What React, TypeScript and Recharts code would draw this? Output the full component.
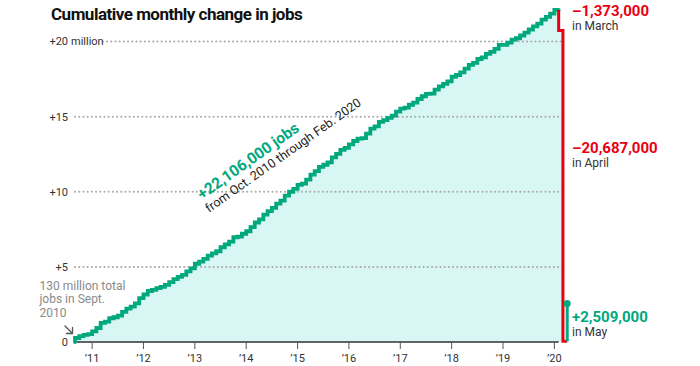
import {
  ComposedChart,
  Area,
  Line,
  XAxis,
  YAxis,
  ReferenceLine,
  ReferenceDot,
} from 'recharts'

const FONT = 'Roboto, "Liberation Sans", Arial, sans-serif'
const GREEN = '#00a87e'
const RED = '#ea0010'
const FILL = '#d7f6f4'
const GRID = '#aaaaaa'
const INK = '#333'

// monthly change in payroll jobs, in thousands (Sept. 2010 = 0)
const GAINS_2010 = [265, 123, 87] // Oct–Dec
const GAINS_2011 = [43, 189, 225, 346, 77, 225, 69, 110, 248, 209, 141, 209]
const GAINS_2012 = [358, 237, 233, 78, 115, 76, 143, 177, 203, 146, 132, 244]
const GAINS_2013 = [190, 311, 135, 192, 218, 146, 140, 269, 185, 189, 291, 45]
const GAINS_2014 = [187, 168, 272, 310, 213, 306, 232, 218, 286, 200, 331, 261]
const GAINS_2015 = [190, 272, 74, 275, 332, 226, 292, 136, 155, 332, 237, 270]
const GAINS_2016 = [125, 237, 225, 153, 43, 296, 333, 151, 292, 119, 153, 154]
const GAINS_2017 = [259, 195, 73, 190, 145, 239, 182, 164, 18, 256, 220, 169]
const GAINS_2018 = [160, 313, 117, 173, 255, 240, 140, 257, 103, 235, 130, 200]
const GAINS_2019 = [269, 1, 147, 210, 85, 182, 194, 207, 208, 185, 261, 184]
const GAINS_2020 = [214, 251] // Jan–Feb
const SPRING_2020 = [-1373, -20687, 2509] // Mar, Apr, May
const SPRING_LABELS = ['–1,373,000', '–20,687,000', '+2,509,000']
const SPRING_MONTHS = ['in March', 'in April', 'in May']

const Y_TICKS = [0, 5, 10, 15, 20]
// January of each year, counted in months since Sept. 2010
const YEAR_TICKS = [4, 16, 28, 40, 52, 64, 76, 88, 100, 112]
const YEAR_LABELS = ['’11', '’12', '’13', '’14', '’15', '’16', '’17', '’18', '’19', '’20']

const monthly = [
  ...GAINS_2010, ...GAINS_2011, ...GAINS_2012, ...GAINS_2013, ...GAINS_2014,
  ...GAINS_2015, ...GAINS_2016, ...GAINS_2017, ...GAINS_2018, ...GAINS_2019,
  ...GAINS_2020,
]
const cumulative = monthly.reduce<number[]>((acc, g) => [...acc, acc[acc.length - 1] + g / 1000], [0])
const FEB = cumulative.length - 1
const march = cumulative[FEB] + SPRING_2020[0] / 1000
const april = march + SPRING_2020[1] / 1000
const may = april + SPRING_2020[2] / 1000

const data: { i: number; trend?: number; fill?: number; drop?: number }[] = []
for (let i = 0; i <= FEB + 3; i++) {
  const row: { i: number; trend?: number; fill?: number; drop?: number } = { i }
  if (i <= FEB) {
    row.trend = cumulative[i]
    row.fill = cumulative[i]
  }
  if (i === FEB + 1) row.fill = march
  if (i >= FEB && i <= FEB + 2) row.drop = [cumulative[FEB], march, april][i - FEB]
  data.push(row)
}

const YTick = (props: any) => {
  const { x, y, payload } = props
  const v = payload.value
  if (v === 20) {
    return (
      <g fontFamily={FONT} fontSize={11} fill={INK}>
        <text x={x} y={y} dy="0.35em" textAnchor="end">+20</text>
        <text x={x + 3} y={y} dy="0.35em">million</text>
      </g>
    )
  }
  return (
    <text x={x} y={y} dy="0.35em" textAnchor="end" fontFamily={FONT} fontSize={11} fill={INK}>
      {v === 0 ? '0' : `+${v}`}
    </text>
  )
}

const XTick = (props: any) => {
  const { x, y, payload } = props
  const idx = YEAR_TICKS.indexOf(payload.value)
  return (
    <text x={x} y={y} dy="0.71em" textAnchor="middle" fontFamily={FONT} fontSize={11} fill={INK}>
      {YEAR_LABELS[idx]}
    </text>
  )
}

const springY = [15.5, 153, 321.5]

const App = () => {
  return (
    <div style={{ position: 'absolute', left: 0, top: 0, width: 700, height: 366, background: '#fff' }}>
      <ComposedChart
        width={700}
        height={366}
        data={data}
        margin={{ top: 4, right: 128.5, left: 0, bottom: 0 }}
      >
        <XAxis
          dataKey="i"
          type="number"
          domain={[0, 116]}
          ticks={YEAR_TICKS}
          tick={<XTick />}
          tickSize={7}
          tickMargin={5}
          tickLine={{ stroke: '#555', strokeWidth: 1 }}
          axisLine={false}
          height={24}
        />
        <YAxis
          type="number"
          domain={[0, 22.5]}
          ticks={Y_TICKS}
          tick={<YTick />}
          tickSize={0}
          tickMargin={7}
          tickLine={false}
          axisLine={false}
          width={75}
        />
        <Area
          dataKey="fill"
          type="stepBefore"
          stroke="none"
          fill={FILL}
          fillOpacity={1}
          isAnimationActive={false}
        />
        {Y_TICKS.filter((v) => v > 0).map((v) => (
          <ReferenceLine
            key={v}
            segment={[
              { x: v === 20 ? 6.5 : 0, y: v },
              { x: FEB + 1, y: v },
            ]}
            stroke={GRID}
            strokeWidth={2}
            strokeDasharray="0.1 4.1"
            strokeLinecap="round"
          />
        ))}
        <ReferenceLine
          segment={[
            { x: 0, y: 0 },
            { x: FEB, y: 0 },
          ]}
          stroke={INK}
          strokeWidth={1.5}
        />
        <Line
          dataKey="trend"
          type="stepBefore"
          stroke={GREEN}
          strokeWidth={3.8}
          strokeLinecap="round"
          dot={false}
          isAnimationActive={false}
        />
        <Line
          dataKey="drop"
          type="stepBefore"
          stroke={RED}
          strokeWidth={3}
          dot={false}
          isAnimationActive={false}
        />
        <ReferenceLine
          segment={[
            { x: FEB + 2, y: april },
            { x: FEB + 2, y: may },
          ]}
          stroke={GREEN}
          strokeWidth={3}
        />
        <ReferenceDot x={FEB + 2} y={may} r={3.5} fill={GREEN} stroke="none" />
      </ComposedChart>
      <svg
        width={700}
        height={366}
        style={{ position: 'absolute', left: 0, top: 0, pointerEvents: 'none' }}
        fontFamily={FONT}
      >
        <text x={51} y={19.5} fontSize={17} fontWeight={700} fill="#111" letterSpacing={-0.5}>
          Cumulative monthly change in jobs
        </text>
        {SPRING_LABELS.map((label, k) => (
          <g key={label}>
            <text x={572} y={springY[k]} fontSize={15} fontWeight={700} fill={k === 2 ? GREEN : RED}>
              {label}
            </text>
            <text x={572} y={springY[k] + 14} fontSize={12} fill={INK}>
              {SPRING_MONTHS[k]}
            </text>
          </g>
        ))}
        <text x={202} y={200} fontSize={15.5} fontWeight={700} fill={GREEN} transform="rotate(-35.3 202 200)">
          +22,106,000 jobs
        </text>
        <text x={209} y={213} fontSize={12.5} fill="#222" transform="rotate(-35.3 209 213)">
          from Oct. 2010 through Feb. 2020
        </text>
        <g fontSize={12} fill="#8a8a8a">
          <text x={39.5} y={289.5}>130 million total</text>
          <text x={39.5} y={303}>jobs in Sept.</text>
          <text x={39.5} y={317}>2010</text>
        </g>
        <g stroke="#555" strokeWidth={1.3} fill="none" strokeLinecap="round">
          <path d="M65 326 L72.5 333.5 M72.5 327.5 L72.5 333.5 L66.5 333.5" />
        </g>
      </svg>
    </div>
  )
}

export default App
